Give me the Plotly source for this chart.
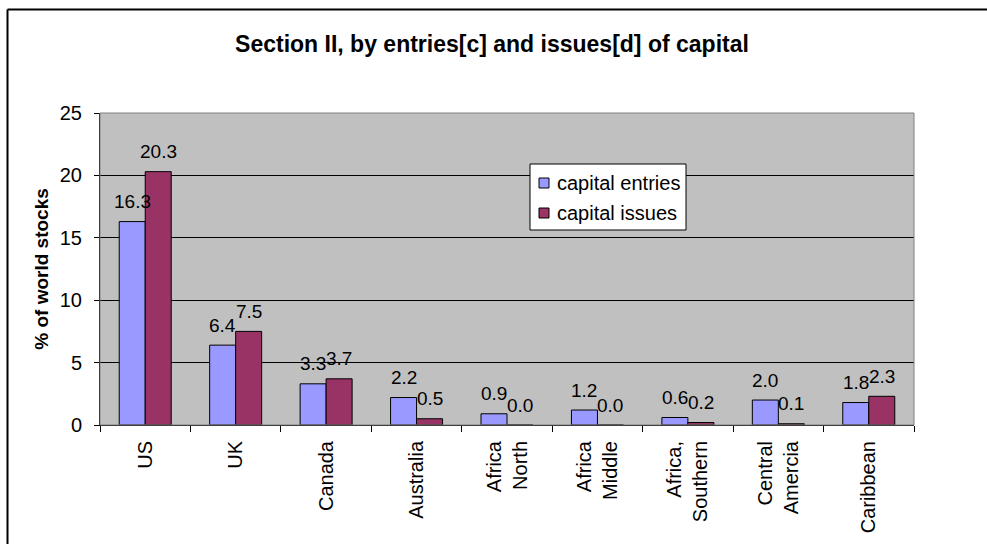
import plotly.graph_objects as go

# Share of world stocks by region
categories = ["US", "UK", "Canada", "Australia", "Africa<br>North", "Africa<br>Middle",
              "Africa,<br>Southern", "Central<br>Amercia", "Caribbean"]
capital_entries = [16.3, 6.4, 3.3, 2.2, 0.9, 1.2, 0.6, 2.0, 1.8]
capital_issues = [20.3, 7.5, 3.7, 0.5, 0.0, 0.0, 0.2, 0.1, 2.3]
y_ticks = [0, 5, 10, 15, 20, 25]
series_names = ["capital entries", "capital issues"]
series_colors = ["#9999FF", "#993366"]

W, H = 987, 544
L, R, T, B = 100, 73, 113, 119
FONT = "Liberation Sans, Arial, sans-serif"
FS = 20
FS_LABEL = 19

pw, ph = W - L - R, H - T - B
def px_x(p):
    return (p - L) / pw
def px_y(p):
    return (H - B - p) / ph

fig = go.Figure()
for name, vals, color in zip(series_names, (capital_entries, capital_issues), series_colors):
    fig.add_trace(go.Bar(x=categories, y=vals, name=name, showlegend=False,
                         marker=dict(color=color, line=dict(color="black", width=1))))

# value labels above each bar
for vals, shift in ((capital_entries, -13), (capital_issues, 13)):
    for c, v in zip(categories, vals):
        fig.add_annotation(x=c, y=v, text=f"{v:.1f}", showarrow=False, xshift=shift,
                           yshift=20, xanchor="center", yanchor="middle",
                           font=dict(family=FONT, size=FS_LABEL, color="black"))

# legend box drawn inside the plot area
fig.add_shape(type="rect", xref="paper", yref="paper", x0=px_x(530), x1=px_x(686),
              y0=px_y(230), y1=px_y(164), fillcolor="white",
              line=dict(color="black", width=1), layer="above")
for i, (name, color) in enumerate(zip(series_names, series_colors)):
    cy = 183 + 30 * i
    fig.add_shape(type="rect", xref="paper", yref="paper", x0=px_x(539), x1=px_x(549),
                  y0=px_y(cy + 5), y1=px_y(cy - 5), fillcolor=color,
                  line=dict(color="black", width=1), layer="above")
    fig.add_annotation(xref="paper", yref="paper", x=px_x(555), y=px_y(cy), text=name,
                       showarrow=False, xanchor="left", yanchor="middle",
                       font=dict(family=FONT, size=FS, color="black"))

# plot-area border (grey) and outer chart frame
fig.add_shape(type="rect", xref="paper", yref="paper", x0=0, x1=1, y0=0, y1=1,
              line=dict(color="#808080", width=1), layer="above")
fig.add_shape(type="line", xref="paper", yref="paper", x0=px_x(7.5), x1=px_x(W + 5),
              y0=px_y(9.5), y1=px_y(9.5), line=dict(color="black", width=2))
fig.add_shape(type="line", xref="paper", yref="paper", x0=px_x(7.5), x1=px_x(7.5),
              y0=px_y(9.5), y1=px_y(H + 5), line=dict(color="black", width=2))

fig.update_layout(
    width=W, height=H,
    margin=dict(l=L, r=R, t=T, b=B, autoexpand=False),
    paper_bgcolor="white", plot_bgcolor="#C0C0C0",
    barmode="group", bargap=0.425, bargroupgap=0,
    font=dict(family=FONT, size=FS, color="black"),
    title=dict(text="<b>Section II, by entries[c] and issues[d] of capital</b>",
               x=492 / W, xref="container", xanchor="center", y=1 - 44 / H,
               yref="container", yanchor="middle",
               font=dict(family=FONT, size=23, color="black")),
    showlegend=False,
)
fig.update_xaxes(type="category", showline=True, linecolor="black", linewidth=1,
                 ticks="outside", tickson="boundaries", ticklen=6, tickcolor="black",
                 tickangle=-90, showgrid=False, ticklabelstandoff=7,
                 tickfont=dict(family=FONT, size=FS))
fig.update_yaxes(range=[0, 25], tickvals=y_ticks, showline=True, linecolor="black",
                 linewidth=1, ticks="outside", ticklen=5, tickcolor="black",
                 showgrid=True, gridcolor="black", gridwidth=1, zeroline=False,
                 ticklabelstandoff=8, tickfont=dict(family=FONT, size=FS),
                 title=dict(text="<b>% of world stocks</b>", standoff=6,
                            font=dict(family=FONT, size=19)))

fig.write_html("out.html")
